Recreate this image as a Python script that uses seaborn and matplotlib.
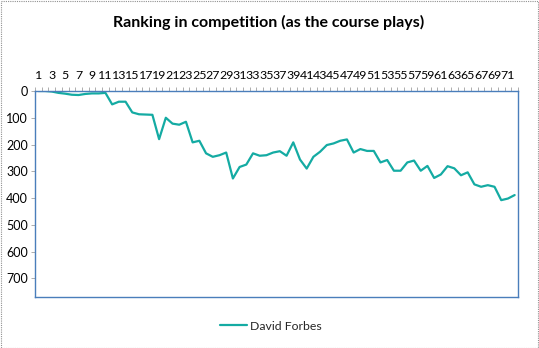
import matplotlib
matplotlib.use("Agg")
import matplotlib.pyplot as plt
import seaborn as sns
import pandas as pd
from matplotlib.ticker import FixedLocator
from matplotlib.patches import Rectangle
from matplotlib.lines import Line2D

hole = list(range(1, 73))
ranking = [0, 0, 2, 7, 10, 14, 15, 11, 9, 9,
           7, 50, 40, 40, 80, 87, 88, 89, 180, 100,
           122, 126, 115, 192, 186, 233, 246, 240, 230, 327,
           284, 275, 233, 242, 240, 230, 225, 242, 192, 256,
           290, 246, 227, 202, 196, 186, 181, 230, 217, 224,
           224, 267, 258, 298, 298, 267, 260, 298, 280, 325,
           312, 281, 289, 315, 304, 349, 358, 352, 358, 408,
           402, 389]
player = "David Forbes"
title = "Ranking in competition (as the course plays)"
x_labels = list(range(1, 72, 2))
y_ticks = [0, 100, 200, 300, 400, 500, 600, 700]

df = pd.DataFrame({"hole": hole, "ranking": ranking, "player": player})

sns.set_theme(style="white")
plt.rcParams['font.family'] = ['Lato', 'DejaVu Sans']

fig = plt.figure(figsize=(5.39, 3.48), dpi=100)
ax = fig.add_axes([35/539, 1-297/348, (518-35)/539, (297-91)/348])

teal = '#14ABA3'
sns.lineplot(data=df, x="hole", y="ranking", hue="player", palette=[teal],
             linewidth=1.6, ax=ax, legend=False)

ax.set_xlim(0.5, 72.5)
ax.set_ylim(770, 0)
ax.xaxis.tick_top()
ax.xaxis.set_major_locator(FixedLocator(x_labels))
ax.xaxis.set_minor_locator(FixedLocator([i + 0.5 for i in range(0, 73)]))
ax.tick_params(axis='x', which='major', length=0, pad=7, labelsize=8.9)
ax.tick_params(axis='x', which='minor', length=3, width=0.6, color='#a0a0a0', direction='out', top=True, bottom=False)
ax.set_yticks(y_ticks)
ax.tick_params(axis='y', which='major', length=3, width=0.6, color='#a0a0a0', direction='out', left=True, pad=2, labelsize=9.0)
ax.tick_params(axis='both', which='major', labelcolor='black')
ax.set_xlabel("")
ax.set_ylabel("")
for s in ax.spines.values():
    s.set_visible(True)
    s.set_color('#4a7ebb')
    s.set_linewidth(1.0)

fig.text(269/539, 1-22/348, title, ha='center', va='center', fontsize=11.5, fontweight='bold', color='black')

handle = Line2D([0], [0], color=teal, linewidth=1.6)
leg = fig.legend([handle], [player], loc='center', bbox_to_anchor=(271/539, 1-326/348),
                 frameon=False, fontsize=8.8, handlelength=2.2, handletextpad=0.3)

fig.patches.append(Rectangle((0.001, 0.001), 0.997, 0.996, transform=fig.transFigure,
                             fill=False, edgecolor='#909090', linewidth=0.8, linestyle=(0, (1, 1))))

fig.savefig("out.png", dpi=100)
